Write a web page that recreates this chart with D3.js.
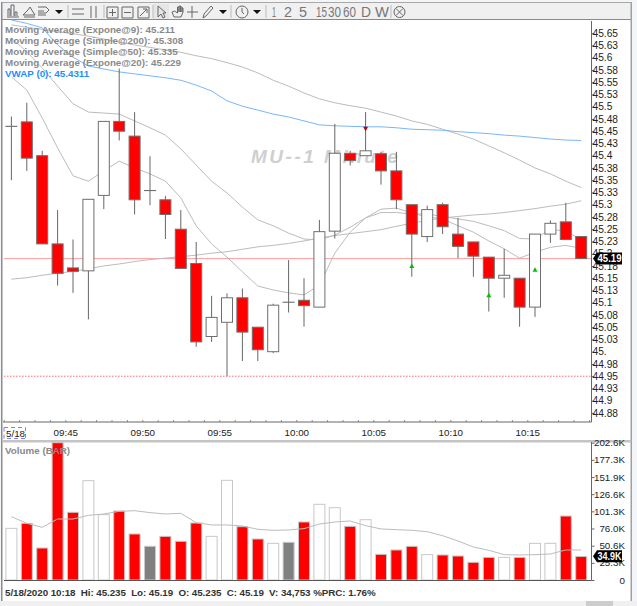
<!DOCTYPE html>
<html>
<head>
<meta charset="utf-8">
<script src="https://cdnjs.cloudflare.com/ajax/libs/d3/7.8.5/d3.min.js"></script>
<style>
html, body { margin: 0; padding: 0; background: #fff; overflow: hidden; }
text { font-family: "Liberation Sans", Arial, sans-serif; }
</style>
</head>
<body>
<script>
var w = 637;
var h = 606;

// bar start times, one per minute
var barTimes = ['09:41','09:42','09:43','09:44','09:45','09:46','09:47','09:48','09:49','09:50',
   '09:51','09:52','09:53','09:54','09:55','09:56','09:57','09:58','09:59','10:00',
   '10:01','10:02','10:03','10:04','10:05','10:06','10:07','10:08','10:09','10:10',
   '10:11','10:12','10:13','10:14','10:15','10:16','10:17','10:18'];

var opens = [45.46,45.469,45.40,45.22,45.171,45.165,45.319,45.47,45.44,45.329,
   45.31,45.25,45.18,45.031,45.06,45.11,45.05,45.0,45.101,45.105,
   45.091,45.246,45.405,45.40,45.404,45.369,45.30,45.235,45.30,45.24,
   45.224,45.193,45.15,45.15,45.091,45.24,45.265,45.235];
var closes = [45.46,45.395,45.22,45.16,45.164,45.311,45.47,45.45,45.31,45.329,
   45.28,45.17,45.02,45.07,45.11,45.04,45.004,45.095,45.101,45.094,
   45.245,45.405,45.39,45.41,45.369,45.31,45.24,45.29,45.255,45.215,
   45.195,45.15,45.156,45.091,45.24,45.262,45.229,45.19];
var highs = [45.48,45.508,45.41,45.289,45.229,45.311,45.47,45.578,45.489,45.399,
   45.318,45.289,45.224,45.114,45.119,45.129,45.05,45.098,45.187,45.15,
   45.269,45.465,45.41,45.489,45.408,45.408,45.30,45.298,45.304,45.273,
   45.224,45.193,45.21,45.15,45.24,45.268,45.304,45.235];
var lows = [45.35,45.369,45.22,45.135,45.12,45.066,45.291,45.431,45.28,45.299,
   45.23,45.17,45.01,45.02,44.95,44.981,44.981,44.997,45.08,45.051,
   45.091,45.231,45.38,45.40,45.341,45.291,45.153,45.224,45.24,45.191,
   45.153,45.082,45.11,45.051,45.071,45.222,45.229,45.19];

var ema9 = [45.561,45.534,45.477,45.416,45.359,45.348,45.369,45.389,45.375,45.363,
   45.348,45.314,45.257,45.22,45.193,45.163,45.134,45.126,45.12,45.116,
   45.136,45.201,45.244,45.273,45.291,45.293,45.283,45.275,45.271,45.257,
   45.244,45.226,45.21,45.191,45.203,45.213,45.217,45.211];
var ema20 = [45.64,45.612,45.579,45.542,45.506,45.489,45.487,45.485,45.471,45.457,
   45.442,45.414,45.381,45.348,45.324,45.295,45.269,45.257,45.242,45.23,
   45.228,45.238,45.254,45.273,45.284,45.284,45.281,45.281,45.276,45.271,
   45.266,45.257,45.247,45.231,45.23,45.25,45.246,45.229];
var sma50 = [45.667,45.662,45.658,45.653,45.649,45.644,45.638,45.632,45.626,45.621,
   45.616,45.611,45.604,45.598,45.59,45.581,45.569,45.554,45.542,45.528,
   45.516,45.508,45.502,45.497,45.489,45.481,45.471,45.464,45.454,45.444,
   45.434,45.42,45.406,45.391,45.375,45.363,45.348,45.335];
var sma200 = [45.148,45.151,45.156,45.16,45.164,45.169,45.175,45.179,45.184,45.188,
   45.191,45.194,45.197,45.201,45.204,45.209,45.214,45.217,45.221,45.226,
   45.232,45.237,45.241,45.245,45.249,45.256,45.262,45.268,45.273,45.276,
   45.279,45.281,45.284,45.288,45.292,45.297,45.301,45.308];
var vwap = [45.677,45.67,45.661,45.626,45.601,45.583,45.577,45.571,45.567,45.563,
   45.559,45.554,45.544,45.532,45.512,45.501,45.493,45.485,45.479,45.471,
   45.463,45.461,45.46,45.459,45.459,45.457,45.454,45.453,45.452,45.449,
   45.447,45.445,45.442,45.44,45.437,45.434,45.432,45.431];

// volume in thousands, kinds: u up (hollow), d down (red), f flat (grey)
var volumes = [76.2,83.6,47.2,202.6,99.9,146.6,96.4,101.8,67.9,49.7,
   64.4,57.1,84.1,64.4,147.1,78.7,60.5,54.1,55.6,85.6,
   111.7,106.7,79.2,89,37.9,44.3,49.7,37.4,36.9,35.4,
   26.1,33.4,33.4,33.4,54.1,54.1,94.4,34.753];
var volumeKinds = ['u','d','d','d','d','u','u','d','d','f',
   'd','d','d','u','u','d','d','u','f','d',
   'u','u','d','u','d','d','d','u','d','d',
   'd','d','u','d','u','u','d','d'];
var volumeMa = [93.5,83.6,77.7,90,90,95.4,97.4,101.3,102.3,99.4,
   97.4,98.4,84.6,81.2,81.2,79.7,74.8,73.3,73.8,75.8,
   82.6,85.6,87.1,80.2,75.3,74.3,73.3,71.3,65.4,57.6,
   48.7,43.8,37.4,36.9,37.4,38.4,44.3,44.3];

var priceTicks = [45.65,45.625,45.6,45.575,45.55,45.525,45.5,45.475,45.45,45.425,45.4,45.375,45.35,45.325,45.3,45.275,45.25,45.225,45.2,45.175,45.15,45.125,45.1,45.075,45.05,45.025,45,44.975,44.95,44.925,44.9,44.875];
var priceTickLabels = ['45.65','45.63','45.6','45.58','45.55','45.53','45.5','45.48','45.45','45.43','45.4','45.38','45.35','45.33','45.3','45.28','45.25','45.23','45.2','45.18','45.15','45.13','45.1','45.08','45.05','45.03','45.','44.98','44.95','44.93','44.9','44.88'];
var volumeTicks = [202.6,177.3,151.9,126.6,101.3,76,50.6,25.3,0];
var volumeTickLabels = ['202.6K','177.3K','151.9K','126.6K','101.3K','76.0K','50.6K','25.3K','0'];

var legendLabels = ['Moving Average (Expone@9): 45.211','Moving Average (Simple@200): 45.308','Moving Average (Simple@50): 45.335','Moving Average (Expone@20): 45.229','VWAP (0): 45.4311'];
var infoLine = '5/18/2020 10:18  Hi: 45.235  Lo: 45.19  O: 45.235  C: 45.19  V: 34,753 %PRC: 1.76%';
var lastPrice = 45.19;
var sessionLow = 44.95;
var lastVolume = 34.9;
// signal markers: bar index, price
var greenSignals = [[26, 45.175], [31, 45.115], [34, 45.167]];
var redSignals = [[23, 45.455]];

var parseTime = d3.timeParse('%H:%M');
var axisRight = 591.5;
var fontSize = '9.800px';

var x = d3.scaleTime()
   .domain([parseTime('09:41'), parseTime('10:19')])
   .range([3.7, 588.9]);
var y = d3.scaleLinear().domain([45, 45.65]).range([351.7, 33.2]);
var yVol = d3.scaleLinear().domain([0, 202.6]).range([580, 442.7]);

function barX(i) {
   return x(d3.timeSecond.offset(parseTime(barTimes[i]), 30));
}

var svg = d3.select('body')
   .append('svg')
   .attr('width', w)
   .attr('height', h)
   .style('display', 'block');

// window chrome
svg.append('rect').attr('width', w).attr('height', h).attr('fill', '#f3f5f8');
svg.append('rect').attr('x', 2).attr('y', 3).attr('width', 629).attr('height', 598).attr('fill', '#fff');
svg.append('rect').attr('x', 2).attr('y', 3).attr('width', 629).attr('height', 16).attr('fill', '#f0f0f0');
svg.append('rect').attr('x', 1).attr('y', 19).attr('width', 630).attr('height', 1).attr('fill', '#8a8a8a');
svg.append('rect').attr('x', 1).attr('y', 2).attr('width', 630).attr('height', 1).attr('fill', '#a8a8a8');
svg.append('rect').attr('x', 1).attr('y', 2).attr('width', 1.5).attr('height', 599).attr('fill', '#8c8c8c');
svg.append('rect').attr('x', 630.5).attr('y', 2).attr('width', 1.5).attr('height', 599).attr('fill', '#a0a0a0');
svg.append('rect').attr('x', 2).attr('y', 440).attr('width', 629).attr('height', 2.5).attr('fill', '#c4c4c4');
svg.append('rect').attr('x', 0).attr('y', 601).attr('width', w).attr('height', 5).attr('fill', '#f0f0f0');
svg.append('rect').attr('x', 586).attr('y', 601).attr('width', 27).attr('height', 5).attr('fill', '#cdcdcd');

// toolbar
svg.append('rect').attr('x', 153).attr('y', 4).attr('width', 16).attr('height', 15).attr('fill', '#e6e6e6');
[68, 104, 153, 231, 266].forEach(function(s) {
   svg.append('line').attr('x1', s).attr('x2', s).attr('y1', 5).attr('y2', 18).attr('stroke', '#bbb');
});
var bar = svg.append('g').attr('fill', 'none').attr('stroke', '#666').attr('stroke-width', 1);
var icons = [
   'M8 16V9h2v7M11 16V5h3v11M15 16v-4h2v4M7 17h12',
   'M23 15l5-5 2-3 3 5 2 3zM24 17h11',
   'M38 7h8l3 3-3 3h-8M38 11h6M38 15h8',
   'M72 9h12M72 14h12',
   'M91 6v12M96 6v12',
   'M107 7h11v11h-11zM112.5 9v7M109 12.500h7',
   'M122 7h11v11h-11zM124 12.500h7',
   'M138 7h11v11h-11zM140 16l7-7M143 9h4v4',
   'M158 6v11l3-3 2 4 2-1-2-4h3z',
   'M172 12l2 5h7l2-5V8l-1 0v4V7h-1.500v5V6h-1.500v6V7h-1.500v6l-3-2z',
   'M192 6v12M187 12h11',
   'M203 18l1-4 7-8 2 2-7 8z',
   'M236 12a6 6 0 1 0 12 0a6 6 0 1 0 -12 0M242 8v4l2 2'
];
bar.selectAll('path').data(icons).enter().append('path').attr('d', function(d) { return d; });
svg.selectAll('path.drop').data([55, 219, 253]).enter().append('path')
   .attr('class', 'drop')
   .attr('d', function(d) { return 'M' + d + ' 10h8l-4 4z'; })
   .attr('fill', '#111');
var periodLabels = [['1', 272, 4], ['2', 284, 8], ['5', 299, 8], ['15', 316, 11], ['30', 328, 13], ['60', 343, 13], ['D', 361, 10], ['W', 375, 14]];
svg.selectAll('text.period').data(periodLabels).enter().append('text')
   .attr('class', 'period')
   .attr('x', function(d) { return d[1]; })
   .attr('y', 17)
   .attr('textLength', function(d) { return d[2]; })
   .attr('lengthAdjust', 'spacingAndGlyphs')
   .attr('font-size', '15px')
   .attr('fill', '#777')
   .text(function(d) { return d[0]; });
svg.append('line').attr('x1', 391).attr('x2', 391).attr('y1', 5).attr('y2', 18).attr('stroke', '#bbb');
svg.append('circle').attr('cx', 399.500).attr('cy', 12).attr('r', 5.500).attr('fill', 'none').attr('stroke', '#666');
svg.append('path').attr('d', 'M396 8.500l7 7M403 8.500l-7 7').attr('stroke', '#666');

// watermark
svg.append('text')
   .attr('x', 251)
   .attr('y', 163)
   .attr('font-size', '19px')
   .attr('font-weight', 'bold')
   .attr('font-style', 'italic')
   .attr('letter-spacing', '2.500px')
   .attr('fill', '#cfcfcf')
   .text('MU--1 Minute');

// reference lines
svg.append('line').attr('x1', 4).attr('x2', axisRight).attr('y1', y(lastPrice)).attr('y2', y(lastPrice))
   .attr('stroke', '#ff9c9c').attr('stroke-width', 1);
svg.append('line').attr('x1', 4).attr('x2', axisRight).attr('y1', y(sessionLow)).attr('y2', y(sessionLow))
   .attr('stroke', '#ff6a6a').attr('stroke-dasharray', '1.500,1.500');

// moving averages
var priceLine = d3.line()
   .x(function(d, i) { return barX(i); })
   .y(function(d) { return y(d); });
[ema9, ema20, sma50, sma200].forEach(function(s) {
   svg.append('path').attr('d', priceLine(s)).attr('fill', 'none').attr('stroke', '#bcbcbc');
});
svg.append('path').attr('d', priceLine(vwap)).attr('fill', 'none').attr('stroke', '#79b6fb');

// candles, a flat bar still gets a thin body so it shows as a dash
var candles = svg.append('g').selectAll('g').data(barTimes).enter().append('g');
candles.append('line')
   .attr('x1', function(d, i) { return barX(i); })
   .attr('x2', function(d, i) { return barX(i); })
   .attr('y1', function(d, i) { return y(highs[i]); })
   .attr('y2', function(d, i) { return y(lows[i]); })
   .attr('stroke', '#666');
candles.append('rect')
   .attr('x', function(d, i) { return barX(i) - 5.500; })
   .attr('width', 11)
   .attr('y', function(d, i) { return y(Math.max(opens[i], closes[i])); })
   .attr('height', function(d, i) { return Math.max(Math.abs(y(opens[i]) - y(closes[i])), 0.1); })
   .attr('fill', function(d, i) { return closes[i] < opens[i] ? '#ff0000' : '#fff'; })
   .attr('stroke', '#6e6e6e');

// signals
svg.selectAll('path.green').data(greenSignals).enter().append('path')
   .attr('class', 'green')
   .attr('d', function(d) { return 'M' + barX(d[0]) + ' ' + (y(d[1]) - 2.500) + 'l2.500 4.500h-5z'; })
   .attr('fill', '#00c000');
svg.selectAll('path.red').data(redSignals).enter().append('path')
   .attr('class', 'red')
   .attr('d', function(d) { return 'M' + barX(d[0]) + ' ' + (y(d[1]) + 2.500) + 'l2.500 -4.500h-5z'; })
   .attr('fill', '#c00000');

// legend
svg.selectAll('text.legend').data(legendLabels).enter().append('text')
   .attr('class', 'legend')
   .attr('x', 5)
   .attr('y', function(d, i) { return 33 + i * 11; })
   .attr('font-size', fontSize)
   .attr('font-weight', 'bold')
   .attr('fill', function(d, i) { return i == 4 ? '#1e90ff' : '#8a8a8a'; })
   .text(function(d) { return d; });

// price axis
var yAxis = d3.axisRight(y)
   .tickValues(priceTicks)
   .tickSize(3)
   .tickPadding(-2)
   .tickFormat(function(d, i) { return priceTickLabels[i]; });
var yAxisG = svg.append('g').attr('transform', 'translate(' + axisRight + ',0)').call(yAxis);
yAxisG.select('.domain').attr('d', 'M0 21V422').attr('stroke', '#666');
yAxisG.selectAll('line').attr('stroke', '#666');
yAxisG.selectAll('text').attr('font-size', '10.200px').attr('fill', '#222').attr('font-family', '"Liberation Sans"');

// time axis
var minorAxis = d3.axisTop(x).ticks(d3.timeMinute.every(1)).tickSize(2).tickFormat('');
var minorG = svg.append('g').attr('transform', 'translate(0,422)').call(minorAxis);
minorG.select('.domain').attr('d', 'M3 0H' + axisRight).attr('stroke', '#666');
minorG.selectAll('line').attr('stroke', '#888');
var timeAxis = d3.axisBottom(x)
   .ticks(d3.timeMinute.every(5))
   .tickSize(0)
   .tickPadding(7)
   .tickFormat(d3.timeFormat('%H:%M'));
var timeG = svg.append('g').attr('transform', 'translate(0,422)').call(timeAxis);
timeG.select('.domain').remove();
timeG.selectAll('text').attr('font-size', fontSize).attr('fill', '#222').attr('font-family', '"Liberation Sans"');
svg.append('text').attr('x', 6).attr('y', 436.500).attr('font-size', fontSize).attr('fill', '#222').text('5/18');
svg.append('path').attr('d', 'M4 427.500H25.500V438.500M4 427.500V438.500H25.500')
   .attr('fill', 'none').attr('stroke', '#8080f0').attr('stroke-dasharray', '4,3');

// volume bars
svg.append('g').selectAll('rect').data(volumes).enter().append('rect')
   .attr('x', function(d, i) { return barX(i) - 5.500; })
   .attr('width', 11)
   .attr('y', function(d) { return yVol(d); })
   .attr('height', function(d) { return yVol(0) - yVol(d); })
   .attr('fill', function(d, i) {
      return volumeKinds[i] == 'd' ? '#ff0000' : (volumeKinds[i] == 'f' ? '#808080' : '#fff');
   })
   .attr('stroke', '#c8c8c8');
var volLine = d3.line()
   .x(function(d, i) { return barX(i); })
   .y(function(d) { return yVol(d); });
svg.append('path').attr('d', volLine(volumeMa)).attr('fill', 'none').attr('stroke', '#bcbcbc');
svg.append('text').attr('x', 5).attr('y', 454).attr('font-size', fontSize).attr('font-weight', 'bold').attr('fill', '#8a8a8a').text('Volume (BAR)');

// volume axis, labels right aligned
var volAxis = d3.axisRight(yVol)
   .tickValues(volumeTicks)
   .tickSize(3)
   .tickFormat(function(d, i) { return volumeTickLabels[i]; });
var volG = svg.append('g').attr('transform', 'translate(' + axisRight + ',0)').call(volAxis);
volG.select('.domain').attr('d', 'M0 442V580').attr('stroke', '#666');
volG.selectAll('line').attr('stroke', '#666');
volG.selectAll('text')
   .attr('x', 33.5)
   .attr('text-anchor', 'end')
   .attr('font-size', fontSize)
   .attr('fill', '#222')
   .attr('font-family', '"Liberation Sans"');
svg.append('line').attr('x1', 4).attr('x2', axisRight).attr('y1', 580.500).attr('y2', 580.500).attr('stroke', '#555');

// last value tags
function tag(ty, label) {
   svg.append('path')
      .attr('d', 'M593 ' + ty + 'l4 -6h25v12h-25z')
      .attr('fill', '#000');
   svg.append('text')
      .attr('x', 597.500)
      .attr('y', ty + 3.500)
      .attr('font-size', '10px')
      .attr('font-weight', 'bold')
      .attr('textLength', 24)
      .attr('lengthAdjust', 'spacingAndGlyphs')
      .attr('fill', '#fff')
      .text(label);
}
tag(y(lastPrice), '45.19');
tag(yVol(lastVolume), lastVolume + 'K');

// status line
svg.append('text')
   .attr('x', 5)
   .attr('y', 596)
   .attr('font-size', fontSize)
   .attr('font-weight', 'bold')
   .attr('fill', '#333')
   .attr('textLength', 370.7)
   .style('white-space', 'pre')
   .text(infoLine);
</script>
</body>
</html>
